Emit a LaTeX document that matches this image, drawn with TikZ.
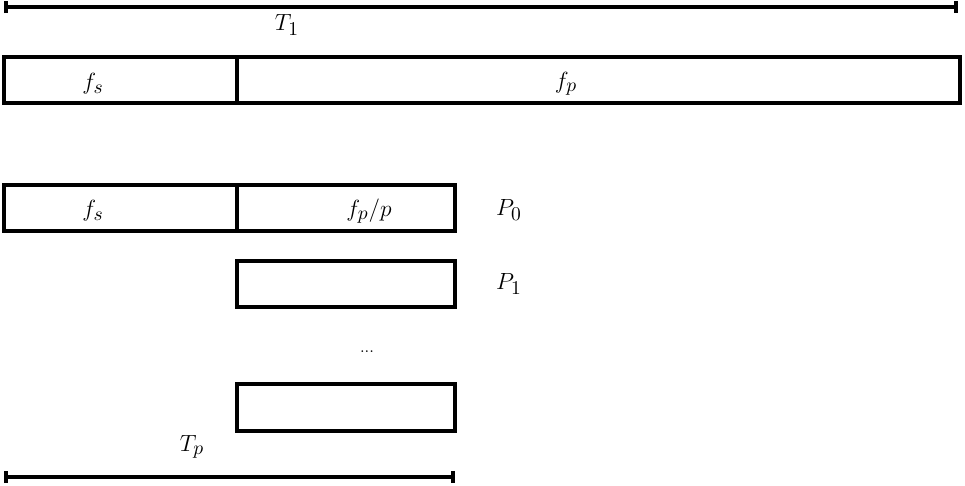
\documentclass[tikz,border=0pt]{standalone}
\usepackage{amsmath}
\usepackage{tikz}
\usetikzlibrary{positioning}
\usetikzlibrary{arrows.meta}
\DeclareMathSizes{12}{12}{10}{8}

\begin{document}
\begin{tikzpicture}[x=0.018cm, y=-0.018cm,
every node/.style={font=\large, inner sep=0pt},
box/.style={draw, line width=2.1pt},
span/.style={line width=1.6pt, {Bar[width=6.3pt,line width=2pt]}-{Bar[width=6.3pt,line width=2pt]}}]
\useasboundingbox (0,0) rectangle (965,485);

% time bars
\coordinate (t1a) at (4,7);
\coordinate (t1b) at (958,7);
\draw[span] (t1a) -- (t1b);
\node (T1) at (287,25) {$T_1$};

\coordinate (tpa) at (4,477);
\coordinate (tpb) at (455,477);
\draw[span] (tpa) -- (tpb);
\node (Tp) at (192,447) {$T_p$};

% serial run
\draw[box] (4,57) rectangle (237,103);
\draw[box] (237,57) rectangle (960,103);
\node (fs) at (93,84) {$f_s$};
\node (fp) at (566,84) {$f_p$};

% parallel run
\draw[box] (4,185) rectangle (237,231);
\draw[box] (237,185) rectangle (455,231);
\node (fs0) at (93,211) {$f_s$};
\node (fpp) at (369,211) {$f_p/p$};
\node (P0) at (509,210) {$P_0$};

\draw[box] (237,261) rectangle (455,307);
\node (P1) at (509,284) {$P_1$};

\node[font=\footnotesize] (dots) at (367,352) {...};

\draw[box] (237,384) rectangle (455,431);
\end{tikzpicture}
\end{document}
